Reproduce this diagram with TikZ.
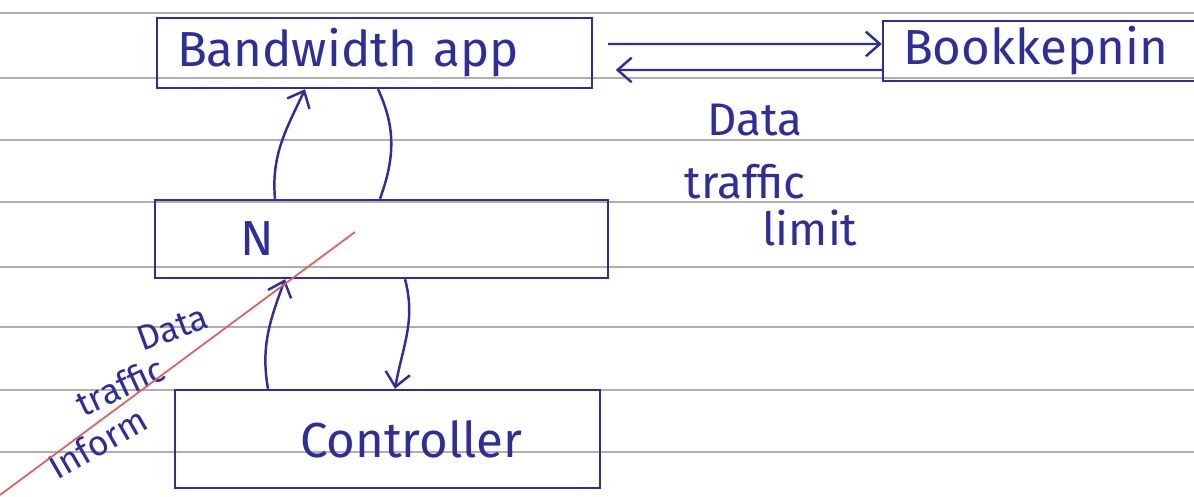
\documentclass[tikz,border=0pt]{standalone}
\usepackage{fontspec}
\setmainfont{Fira Sans}
\usepackage{xcolor}
\definecolor{inkblue}{RGB}{45,45,160}
\definecolor{inkred}{RGB}{225,95,95}
\definecolor{ruleline}{RGB}{175,175,175}
\usetikzlibrary{arrows.meta,positioning,calc}

\begin{document}
\begin{tikzpicture}[
  blockbox/.style={
    rectangle, draw=inkblue, line width=1.4pt,
    inner xsep=0.2cm, inner ysep=0pt,
    font=\fontsize{28}{30}\selectfont,
    align=left,
    text=inkblue
  },
  note/.style={font=\fontsize{26}{28}\selectfont, text=inkblue, inner sep=0pt},
  sidenote/.style={font=\fontsize{20}{22}\selectfont, text=inkblue, inner sep=0pt},
  conn/.style={-{Straight Barb[length=8pt,width=14pt]}, line width=1.4pt, draw=inkblue},
  link/.style={line width=1.4pt, draw=inkblue}
]
\useasboundingbox (0,0) rectangle (23.88,9.94);
\foreach \ly in {9.68,8.38,7.14,5.9,4.6,3.4,2.14,0.9}
  \draw[ruleline, line width=0.6pt] (0,\ly) -- (23.88,\ly);

\node[blockbox, minimum width=8.7cm, minimum height=1.4cm, text width=8.3cm]   (bw)   at (7.49,8.88)  {\hspace*{0.2cm}Bandwidth app};
\node[blockbox, minimum width=6.34cm, minimum height=1.2cm, text width=5.94cm] (book) at (20.83,8.92) {\hspace*{0.2cm}Bookkepnin};
\node[blockbox, minimum width=9.06cm, minimum height=1.56cm, text width=8.66cm] (n)   at (7.63,5.16)  {\hspace*{1.5cm}N};
\node[blockbox, minimum width=8.5cm, minimum height=1.96cm, text width=8.1cm]  (ctl)  at (7.75,1.16)  {\hspace*{2.3cm}Controller};

\draw[conn, shorten <=0.3cm] ([yshift=0.18cm]bw.east) -- ([yshift=0.14cm]book.west);
\draw[conn, shorten >=0.45cm] ([yshift=-0.38cm]book.west) -- ([yshift=-0.34cm]bw.east);

\draw[conn] ([xshift=-2.13cm]n.north) to[out=95,in=-115] ([xshift=-1.39cm]bw.south);
\draw[link] ([xshift=0.07cm]bw.south) to[out=-65,in=70] ([xshift=-0.03cm]n.north);
\draw[conn] ([xshift=-2.39cm]ctl.north) to[out=100,in=-110] ([xshift=-1.93cm]n.south);
\draw[conn] ([xshift=0.47cm]n.south) to[out=-75,in=80] ([xshift=0.15cm]ctl.north);

\node[note] (lim1) at (15.1,7.54) {Data};
\node[note] (lim2) at (14.9,6.3) {traffic};
\node[note] (lim3) at (16.2,5.38) {limit};

\node[sidenote, rotate=20] (inf1) at (3.45,3.38) {Data};
\node[sidenote, rotate=25] (inf2) at (2.4,2.22) {traffic};
\node[sidenote, rotate=30] (inf3) at (1.95,1.08) {Inform};

\draw[inkred, line width=1pt] (0,0.04) -- (7.1,5.3);
\end{tikzpicture}
\end{document}
